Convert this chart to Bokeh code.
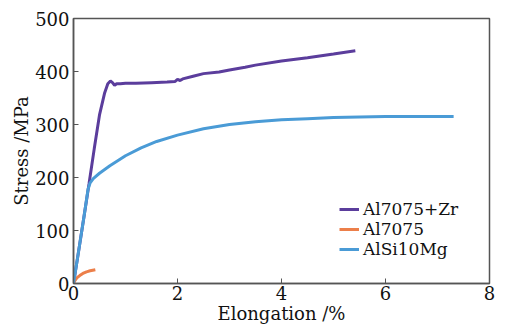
from bokeh.plotting import figure
from bokeh.models import Range1d, Legend, LegendItem, FixedTicker
from bokeh.embed import file_html
from bokeh.resources import INLINE

zr_x = [0, 0.1, 0.2, 0.3, 0.4, 0.5, 0.6, 0.66, 0.71, 0.75, 0.79, 0.83, 0.9, 1.0, 1.2, 1.5, 1.8, 1.95, 2.0, 2.05, 2.1, 2.3, 2.5, 2.8, 3.0, 3.3, 3.5, 4.0, 4.5, 5.0, 5.42]
zr_y = [0, 62, 125, 189, 255, 318, 360, 377, 382, 379, 374, 377, 377, 378, 378, 379, 380, 381, 385, 383, 386, 391, 396, 399, 403, 408, 412, 420, 426, 433, 439]

a_x = [0, 0.03, 0.07, 0.12, 0.18, 0.25, 0.32, 0.42]
a_y = [0, 6, 11, 15, 19, 22, 24, 26]

si_x = [0, 0.1, 0.2, 0.28, 0.32, 0.38, 0.5, 0.7, 1.0, 1.3, 1.6, 2.0, 2.5, 3.0, 3.5, 4.0, 4.5, 5.0, 6.0, 7.31]
si_y = [0, 62, 125, 178, 190, 198, 208, 222, 241, 256, 268, 280, 292, 300, 305, 309, 311, 313, 315, 315]

names = ["Al7075+Zr", "Al7075", "AlSi10Mg"]
colors = ["#5B3D9C", "#EC7F4A", "#4A9BD6"]

FONT = "'DejaVu Serif', 'Liberation Serif', serif"

p = figure(width=505, height=330, output_backend="svg", toolbar_location=None,
           x_range=Range1d(0, 8), y_range=Range1d(0, 500))
p.min_border_left = 73
p.min_border_right = 16
p.min_border_top = 18
p.min_border_bottom = 47
p.xgrid.visible = False
p.ygrid.visible = False
p.outline_line_color = "#555555"
p.outline_line_width = 1.5

r1 = p.line(zr_x, zr_y, line_color=colors[0], line_width=3)
r2 = p.line(a_x, a_y, line_color=colors[1], line_width=3)
r3 = p.line(si_x, si_y, line_color=colors[2], line_width=3)

for ax in (p.xaxis[0], p.yaxis[0]):
    ax.major_tick_in = 5
    ax.major_tick_out = 0
    ax.minor_tick_line_color = None
    ax.axis_line_color = "#555555"
    ax.axis_line_width = 1.5
    ax.major_tick_line_color = "#555555"
    ax.major_label_text_font = FONT
    ax.major_label_text_font_size = "18px"
    ax.major_label_text_color = "#111111"
    ax.axis_label_text_font = FONT
    ax.axis_label_text_font_size = "18px"
    ax.axis_label_text_font_style = "normal"
    ax.axis_label_text_color = "#111111"

p.xaxis.ticker = FixedTicker(ticks=[0, 2, 4, 6, 8])
p.yaxis.ticker = FixedTicker(ticks=[0, 100, 200, 300, 400, 500])
p.xaxis.axis_label = "Elongation /%"
p.yaxis.axis_label = "Stress /MPa"
p.xaxis.major_label_standoff = 2
p.xaxis.axis_label_standoff = 0
p.yaxis.major_label_standoff = 4
p.yaxis.axis_label_standoff = 0

legend = Legend(items=[LegendItem(label=names[0], renderers=[r1]),
                       LegendItem(label=names[1], renderers=[r2]),
                       LegendItem(label=names[2], renderers=[r3])],
                location=(266, 24))
legend.label_text_font = FONT
legend.label_text_font_size = "17px"
legend.label_text_color = "#111111"
legend.glyph_width = 20
legend.glyph_height = 18
legend.label_height = 18
legend.spacing = 0
legend.padding = 2
legend.label_standoff = 4
legend.border_line_color = None
legend.background_fill_alpha = 0
p.add_layout(legend)

open("out.html", "w").write(file_html(p, INLINE))
